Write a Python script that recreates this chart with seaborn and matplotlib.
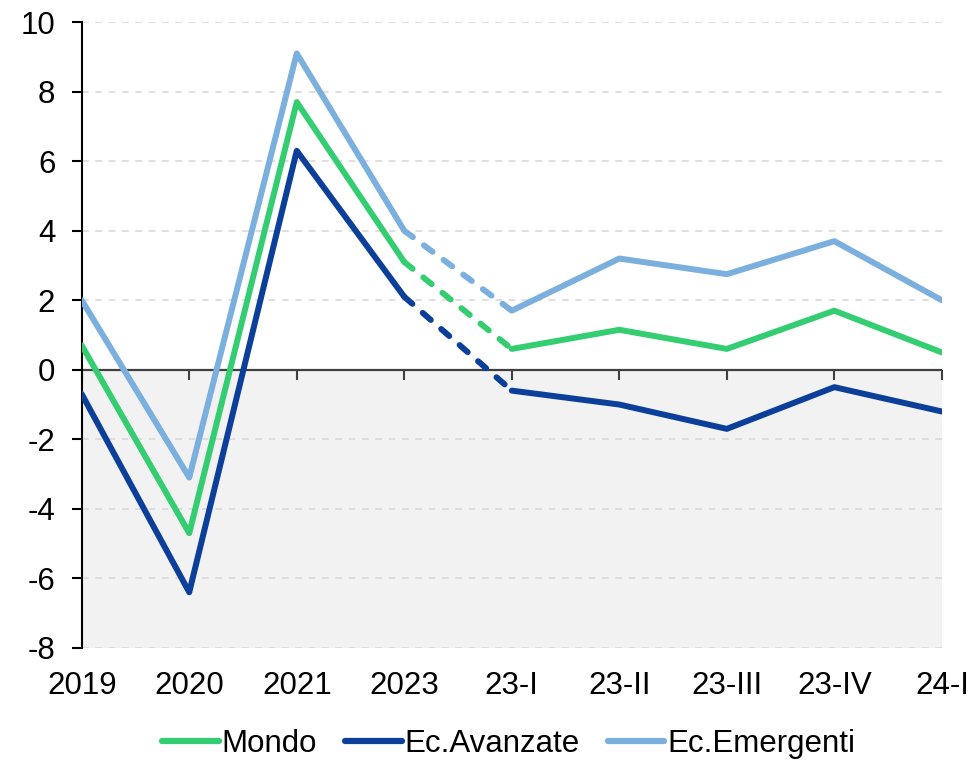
import numpy as np
import pandas as pd
import matplotlib.pyplot as plt
import seaborn as sns
from matplotlib.lines import Line2D

# dati
categorie = ['2019', '2020', '2021', '2023', '23-I', '23-II', '23-III', '23-IV', '24-I']
mondo = [0.7, -4.7, 7.7, 3.1, 0.6, 1.15, 0.6, 1.7, 0.5]
avanzate = [-0.7, -6.4, 6.3, 2.1, -0.6, -1.0, -1.7, -0.5, -1.2]
emergenti = [2.0, -3.1, 9.1, 4.0, 1.7, 3.2, 2.75, 3.7, 2.0]

serie = ['Mondo', 'Ec.Avanzate', 'Ec.Emergenti']
colori = {'Mondo': '#35CD72', 'Ec.Avanzate': '#0B3F9A', 'Ec.Emergenti': '#7BAFDE'}

sns.set_theme(style='white')
plt.rcParams['font.family'] = ['Liberation Sans', 'DejaVu Sans']
plt.rcParams['axes.unicode_minus'] = False
plt.rcParams['text.color'] = 'black'

x = np.arange(len(categorie))
df = pd.concat([
    pd.DataFrame({'x': x, 'valore': vals, 'serie': nome})
    for nome, vals in zip(serie, [mondo, avanzate, emergenti])
], ignore_index=True)

fig = plt.figure(figsize=(9.73, 7.64), dpi=100)
ax = fig.add_axes([0.084, 0.152, 0.884, 0.819])

ymin, ymax = -8, 10
ax.axhspan(ymin, 0, color='#f2f2f2', zorder=0, lw=0)

# tratto pieno: anni, tratto tratteggiato: 2023 -> 23-I, poi trimestri
annuali = df[df['x'] <= 3]
ponte = df[(df['x'] >= 3) & (df['x'] <= 4)]
trimestri = df[df['x'] >= 4]

kw = dict(x='x', y='valore', hue='serie', palette=colori, hue_order=serie,
          ax=ax, linewidth=4.3, zorder=3)
sns.lineplot(data=annuali, legend=False, solid_capstyle='round', **kw)
sns.lineplot(data=trimestri, legend=False, solid_capstyle='round', **kw)
sns.lineplot(data=ponte, legend=False, dashes=False, **kw)
for ln in ax.get_lines()[-3:]:
    ln.set_linestyle((0, (1.8, 2.3)))
    ln.set_dash_capstyle('round')

ax.set_xlim(0, len(categorie) - 1)
ax.set_ylim(ymin, ymax)
ax.set_yticks(np.arange(ymin, ymax + 1, 2))
ax.set_xticks(x)
ax.set_xticklabels(categorie)
ax.set_xlabel('')
ax.set_ylabel('')

ax.yaxis.grid(True, color='#d9d9d9', linestyle=(0, (4, 4)), linewidth=1.2, zorder=1)
ax.set_axisbelow(True)
ax.axhline(0, color='#404040', linewidth=1.6, zorder=2)

for s in ['top', 'right', 'bottom']:
    ax.spines[s].set_visible(False)
ax.spines['left'].set_color('black')
ax.spines['left'].set_linewidth(1.5)

ax.tick_params(axis='y', direction='out', length=7, width=1.5, color='black',
               pad=12, labelsize=22.5, labelcolor='black', left=True)
ax.tick_params(axis='x', length=0, pad=17, labelsize=22.5, labelcolor='black', bottom=True)

# tacche sull'asse dello zero
pos_zero = (0 - ymin) / (ymax - ymin)
sec = ax.secondary_xaxis(pos_zero)
sec.set_xticks(x)
sec.set_xticklabels([])
sec.spines['bottom'].set_visible(False)
sec.tick_params(direction='out', length=7, width=1.5, color='#404040')

handles = [Line2D([0], [0], color=colori[s], lw=4.5, solid_capstyle='round') for s in serie]
fig.legend(handles, serie, loc='center', bbox_to_anchor=(0.523, 0.026), ncol=3,
           frameon=False, fontsize=22.5, handlelength=1.8, handletextpad=0.1,
           columnspacing=0.9)

fig.savefig('out.png', dpi=100)
